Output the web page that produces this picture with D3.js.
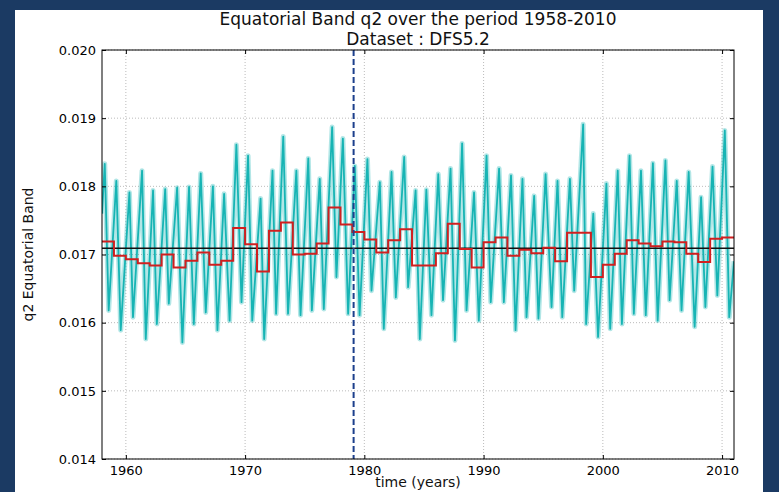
<!DOCTYPE html>
<html>
<head>
<meta charset="utf-8">
<script src="https://cdn.jsdelivr.net/npm/d3@7"></script>
<style>
  html, body { margin: 0; padding: 0; background: #1b3a63; }
  svg { display: block; }
  text { font-family: "DejaVu Sans", sans-serif; }
</style>
</head>
<body>
<svg id="chart" width="779" height="492"></svg>
<script>
// Annual mean of q2 (red step line), one value per year 1958..2010
const firstYear = 1958;
const annualMean = [
  0.01719, 0.01698, 0.01693, 0.01687, 0.01684, 0.01700, 0.01681, 0.01691, 0.01703, 0.01685,
  0.01691, 0.01739, 0.01715, 0.01675, 0.01735, 0.01747, 0.01700, 0.01701, 0.01716, 0.01769,
  0.01744, 0.01733, 0.01722, 0.01703, 0.01721, 0.01737, 0.01684, 0.01684, 0.01702, 0.01745,
  0.01708, 0.01681, 0.01718, 0.01725, 0.01698, 0.01707, 0.01702, 0.01710, 0.01690, 0.01732,
  0.01732, 0.01667, 0.01685, 0.01701, 0.01721, 0.01716, 0.01712, 0.01719, 0.01718, 0.01701,
  0.01689, 0.01723, 0.01725
];

// Overall mean (black line) and the split date (blue dashed line)
const overallMean = 0.01709;
const splitYear = 1979.1;

// Cyan series, read as turning points (time in years, q2)
const cyanTime = [
  1958.0, 1958.23, 1958.56, 1959.2, 1959.57, 1960.3, 1960.6, 1961.36, 1961.67, 1962.28, 1962.6,
  1963.3, 1963.6, 1964.3, 1964.74, 1965.3, 1965.7, 1966.28, 1966.7, 1967.3, 1967.68,
  1968.24, 1968.7, 1969.27, 1969.7, 1970.25, 1970.6, 1971.3, 1971.6, 1972.3, 1972.6,
  1973.2, 1973.6, 1974.3, 1974.65, 1975.3, 1975.6, 1976.26, 1976.6, 1977.3, 1977.66,
  1978.2, 1978.64, 1979.2, 1979.6, 1980.26, 1980.6, 1981.3, 1981.63, 1982.28, 1982.64,
  1983.34, 1983.67, 1984.3, 1984.65, 1985.2, 1985.63, 1986.2, 1986.6, 1987.23, 1987.6,
  1988.2, 1988.57, 1989.2, 1989.6, 1990.25, 1990.6, 1991.3, 1991.7, 1992.3, 1992.68,
  1993.26, 1993.6, 1994.24, 1994.6, 1995.2, 1995.7, 1996.2, 1996.6, 1997.24, 1997.6,
  1998.35, 1998.6, 1999.2, 1999.6, 2000.3, 2000.62, 2001.25, 2001.6, 2002.24, 2002.6,
  2003.2, 2003.6, 2004.2, 2004.6, 2005.25, 2005.6, 2006.2, 2006.6, 2007.2, 2007.7,
  2008.24, 2008.6, 2009.2, 2009.6, 2010.23, 2010.6, 2011.0
];
const cyanQ2 = [
  0.01760, 0.01833, 0.01618, 0.01808, 0.01589, 0.01791, 0.01608, 0.01823, 0.01576, 0.01794, 0.01598,
  0.01796, 0.01628, 0.01798, 0.01571, 0.01799, 0.01598, 0.01819, 0.01615, 0.01800, 0.01589,
  0.01789, 0.01603, 0.01861, 0.01630, 0.01845, 0.01603, 0.01782, 0.01576, 0.01823, 0.01613,
  0.01873, 0.01613, 0.01823, 0.01611, 0.01841, 0.01618, 0.01811, 0.01620, 0.01887, 0.01667,
  0.01870, 0.01613, 0.01830, 0.01611, 0.01840, 0.01647, 0.01806, 0.01591, 0.01821, 0.01637,
  0.01843, 0.01652, 0.01794, 0.01576, 0.01795, 0.01611, 0.01818, 0.01633, 0.01826, 0.01574,
  0.01863, 0.01618, 0.01791, 0.01603, 0.01845, 0.01630, 0.01826, 0.01630, 0.01816, 0.01589,
  0.01811, 0.01608, 0.01786, 0.01606, 0.01818, 0.01623, 0.01808, 0.01608, 0.01811, 0.01647,
  0.01891, 0.01598, 0.01760, 0.01579, 0.01804, 0.01591, 0.01823, 0.01598, 0.01845, 0.01613,
  0.01823, 0.01611, 0.01834, 0.01603, 0.01838, 0.01633, 0.01808, 0.01618, 0.01821, 0.01594,
  0.01784, 0.01623, 0.01829, 0.01640, 0.01882, 0.01608, 0.01690
];

const xTicks = [1960, 1970, 1980, 1990, 2000, 2010];
const yTicks = [0.014, 0.015, 0.016, 0.017, 0.018, 0.019, 0.020];

const svg = d3.select("#chart");

// white panel
svg.append("rect")
  .attr("x", 15).attr("y", 10)
  .attr("width", 748).attr("height", 482)
  .attr("fill", "#ffffff");

const margin = { left: 102, right: 45, top: 50, bottom: 33 };
const width = 779 - margin.left - margin.right;
const height = 492 - margin.top - margin.bottom;

const x = d3.scaleLinear().domain([1958, 2011]).range([0, width]);
const y = d3.scaleLinear().domain([0.014, 0.020]).range([height, 0]);

const g = svg.append("g").attr("transform", `translate(${margin.left},${margin.top})`);

// dotted grid
g.append("g").selectAll("line").data(xTicks).join("line")
  .attr("x1", d => x(d)).attr("x2", d => x(d))
  .attr("y1", 0).attr("y2", height)
  .attr("stroke", "#aaa").attr("stroke-width", 0.8)
  .attr("stroke-dasharray", "1,2");
g.append("g").selectAll("line").data(yTicks).join("line")
  .attr("x1", 0).attr("x2", width)
  .attr("y1", d => y(d)).attr("y2", d => y(d))
  .attr("stroke", "#aaa").attr("stroke-width", 0.8)
  .attr("stroke-dasharray", "1,2");

g.append("clipPath").attr("id", "plotClip")
  .append("rect").attr("width", width).attr("height", height);
const plot = g.append("g").attr("clip-path", "url(#plotClip)");

// cyan series
const cyanData = cyanTime.map((t, i) => [t, cyanQ2[i]]);
const cyanLine = d3.line().x(d => x(d[0])).y(d => y(d[1]));
plot.append("path")
  .datum(cyanData)
  .attr("d", cyanLine)
  .attr("fill", "none")
  .attr("stroke", "#22b8b8")
  .attr("stroke-opacity", 0.35)
  .attr("stroke-width", 5)
  .attr("stroke-linejoin", "round");
plot.append("path")
  .datum(cyanData)
  .attr("d", cyanLine)
  .attr("fill", "none")
  .attr("stroke", "#17b4b4")
  .attr("stroke-width", 1.8)
  .attr("stroke-linejoin", "round");

// overall mean
plot.append("line")
  .attr("x1", 0).attr("x2", width)
  .attr("y1", y(overallMean)).attr("y2", y(overallMean))
  .attr("stroke", "#111").attr("stroke-width", 1.5);

// annual means as steps
const stepData = annualMean.map((v, i) => [firstYear + i, v]);
stepData.push([firstYear + annualMean.length, annualMean[annualMean.length - 1]]);
plot.append("path")
  .datum(stepData)
  .attr("d", d3.line().curve(d3.curveStepAfter).x(d => x(d[0])).y(d => y(d[1])))
  .attr("fill", "none")
  .attr("stroke", "#d11f1f")
  .attr("stroke-width", 2);

// split line
plot.append("line")
  .attr("x1", x(splitYear)).attr("x2", x(splitYear))
  .attr("y1", 0).attr("y2", height)
  .attr("stroke", "#1c3f8c").attr("stroke-width", 2)
  .attr("stroke-dasharray", "6,3");

// axes: ticks inside, on all four sides
const fmtY = d3.format(".3f");
const axB = g.append("g").attr("transform", `translate(0,${height})`)
  .call(d3.axisBottom(x).tickValues(xTicks).tickFormat(d3.format("d")).tickSizeInner(-4).tickSizeOuter(0).tickPadding(7));
const axT = g.append("g")
  .call(d3.axisTop(x).tickValues(xTicks).tickFormat("").tickSizeInner(-4).tickSizeOuter(0));
const axL = g.append("g")
  .call(d3.axisLeft(y).tickValues(yTicks).tickFormat(fmtY).tickSizeInner(-4).tickSizeOuter(0).tickPadding(6));
const axR = g.append("g").attr("transform", `translate(${width},0)`)
  .call(d3.axisRight(y).tickValues(yTicks).tickFormat("").tickSizeInner(-4).tickSizeOuter(0));

[axB, axT, axL, axR].forEach(a => {
  a.select(".domain").remove();
  a.selectAll(".tick line").attr("stroke", "#000");
  a.selectAll("text").attr("font-size", 13).attr("fill", "#000")
    .attr("font-family", "DejaVu Sans, sans-serif");
});

// frame
g.append("rect")
  .attr("width", width).attr("height", height)
  .attr("fill", "none").attr("stroke", "#000").attr("stroke-width", 1);

// titles and labels
svg.append("text")
  .attr("x", margin.left + width / 2).attr("y", 25)
  .attr("text-anchor", "middle").attr("font-size", 17).attr("fill", "#111")
  .text("Equatorial Band q2 over the period 1958-2010");
svg.append("text")
  .attr("x", margin.left + width / 2).attr("y", 45)
  .attr("text-anchor", "middle").attr("font-size", 17).attr("fill", "#111")
  .text("Dataset : DFS5.2");
svg.append("text")
  .attr("x", margin.left + width / 2).attr("y", 487)
  .attr("text-anchor", "middle").attr("font-size", 14).attr("fill", "#111")
  .text("time (years)");
svg.append("text")
  .attr("transform", `translate(33,${margin.top + height / 2}) rotate(-90)`)
  .attr("text-anchor", "middle").attr("font-size", 14).attr("fill", "#111")
  .text("q2 Equatorial Band");
</script>
</body>
</html>
